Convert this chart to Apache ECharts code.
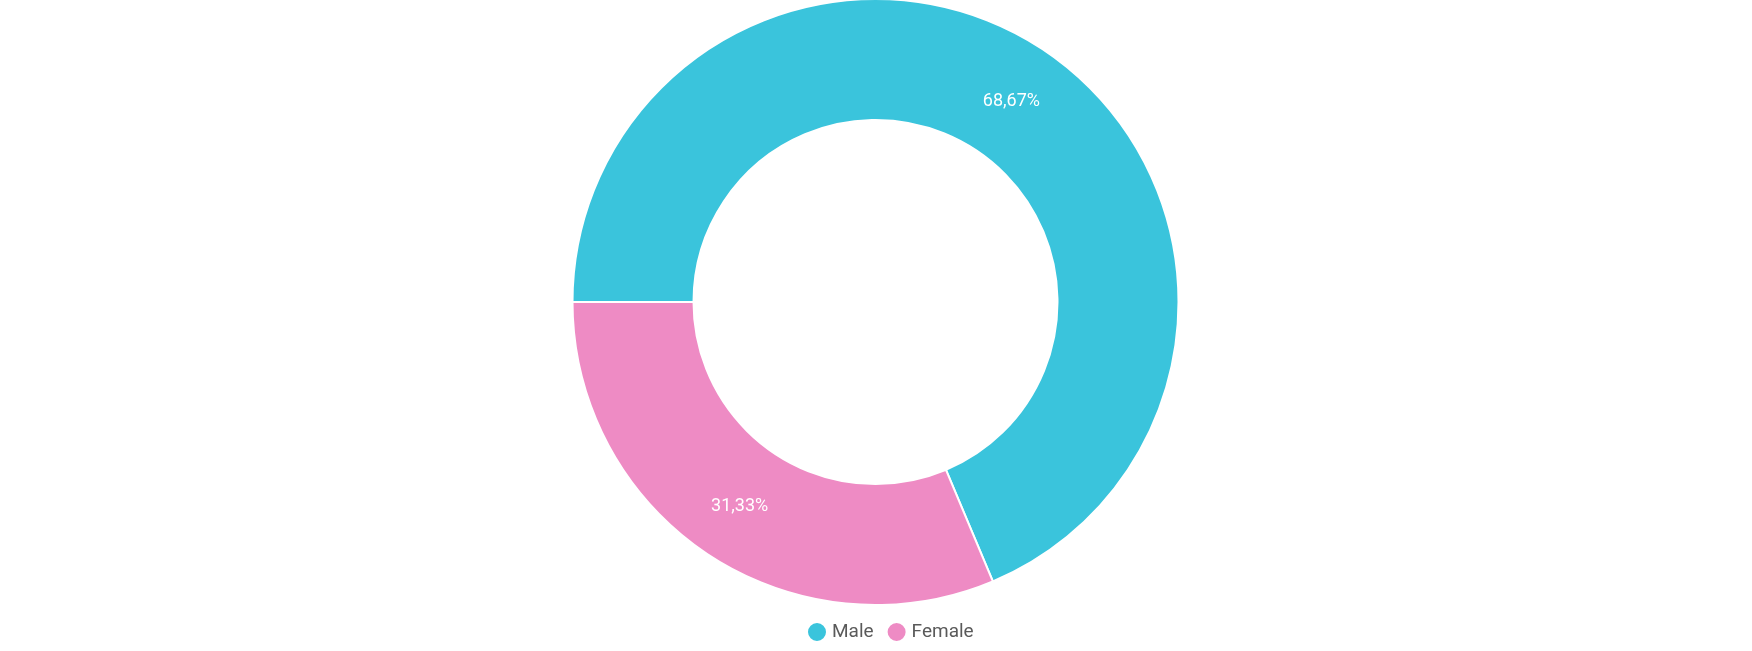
<!DOCTYPE html>
<html>
<head>
<meta charset="utf-8">
<script src="https://cdn.jsdelivr.net/npm/echarts@6/dist/echarts.min.js"></script>
<style>
html,body{margin:0;padding:0;background:#fff;}
#chart{width:1752px;height:651px;}
</style>
</head>
<body>
<div id="chart"></div>
<script>
var categories = ['Male', 'Female'];
var values = [68.67, 31.33];
var colors = ['#3AC4DC', '#EE8BC4'];

var chart = echarts.init(document.getElementById('chart'));
chart.setOption({
  animation: false,
  color: colors,
  legend: {
    data: categories,
    left: 806,
    top: 621,
    padding: 0,
    icon: 'circle',
    itemWidth: 20,
    itemHeight: 20,
    itemGap: 12,
    textStyle: { fontFamily: 'Roboto', fontSize: 19, color: '#5a5a5a', lineHeight: 20 }
  },
  series: [{
    type: 'pie',
    center: [875.5, 302],
    radius: [182, 303],
    startAngle: 180,
    clockwise: true,
    avoidLabelOverlap: false,
    itemStyle: { borderColor: '#ffffff', borderWidth: 2 },
    label: {
      show: true,
      position: 'inside',
      color: '#ffffff',
      fontFamily: 'Roboto',
      fontSize: 18,
      formatter: function (p) { return p.value.toFixed(2).replace('.', ',') + '%'; }
    },
    labelLine: { show: false },
    emphasis: { disabled: true },
    data: categories.map(function (c, i) {
      var d = { name: c, value: values[i] };
      if (i === 0) { d.label = { offset: [0, 4] }; }
      return d;
    })
  }]
});
</script>
</body>
</html>
